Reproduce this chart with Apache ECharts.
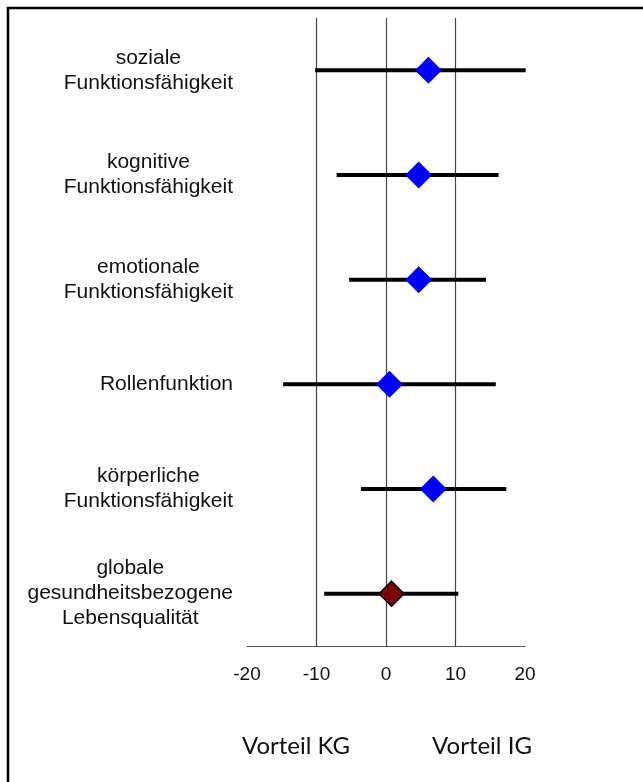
<!DOCTYPE html>
<html>
<head>
<meta charset="utf-8">
<script src="https://cdn.jsdelivr.net/npm/echarts@6/dist/echarts.min.js"></script>
<style>
  html, body { margin: 0; padding: 0; background: #fff; }
  #chart { width: 643px; height: 782px; }
</style>
</head>
<body>
<div id="chart"></div>
<script>
// Outcome domains, listed top to bottom
const categories = [
  'soziale\nFunktionsfähigkeit',
  'kognitive\nFunktionsfähigkeit',
  'emotionale\nFunktionsfähigkeit',
  'Rollenfunktion',
  'körperliche\nFunktionsfähigkeit',
  'globale\ngesundheitsbezogene\nLebensqualität'
];
// Mean difference and confidence interval bounds per domain
const estimates = [6.1, 4.7, 4.7, 0.5, 6.8, 0.8];
const lower     = [-10.2, -7.1, -5.3, -14.8, -3.6, -8.9];
const upper     = [20.1, 16.2, 14.4, 15.8, 17.3, 10.4];
// Index of the summary (global) row, drawn in dark red
const summaryIndex = 5;
// Axis range and ticks
const xMin = -20, xMax = 20, xStep = 10;
// Annotation texts under the axis
const favourLeft = 'Vorteil KG';
const favourRight = 'Vorteil IG';

const chart = echarts.init(document.getElementById('chart'), null, { renderer: 'canvas' });

const ciData = categories.map((c, i) => [lower[i], upper[i], i]);
const pointData = categories.map((c, i) => ({
  value: [estimates[i], i],
  itemStyle: i === summaryIndex
    ? { color: '#7f0000', borderColor: '#000', borderWidth: 1.5, opacity: 1 }
    : { color: '#0000ff', opacity: 1 },
  symbolSize: i === summaryIndex ? 25 : 27
}));

const labelFont = 'Liberation Sans, Arial, sans-serif';

const option = {
  backgroundColor: '#ffffff',
  animation: false,
  grid: { left: 247, right: 118, top: 18, bottom: 136, containLabel: false },
  xAxis: {
    type: 'value',
    min: xMin, max: xMax, interval: xStep,
    axisLine: { show: true, lineStyle: { color: '#555', width: 1.2 } },
    axisTick: { show: false },
    axisLabel: {
      margin: 19,
      color: '#111',
      fontFamily: labelFont,
      fontSize: 19
    },
    splitLine: {
      show: true,
      showMinLine: false,
      showMaxLine: false,
      lineStyle: { color: '#444', width: 1.2 }
    }
  },
  yAxis: {
    type: 'category',
    data: categories,
    inverse: true,
    axisLine: { show: false },
    axisTick: { show: false },
    splitLine: { show: false },
    axisLabel: {
      margin: 14,
      align: 'right',
      color: '#111',
      fontFamily: labelFont,
      fontSize: 21,
      lineHeight: 25,
      formatter: (v) => v.split('\n').map(s => '{c|' + s + '}').join('\n'),
      rich: {
        c: {
          align: 'center',
          fontFamily: labelFont,
          fontSize: 21,
          lineHeight: 25,
          color: '#111'
        }
      }
    }
  },
  series: [
    {
      type: 'custom',
      name: 'KI',
      data: ciData,
      encode: { x: [0, 1], y: 2 },
      renderItem: (params, api) => {
        const a = api.coord([api.value(0), api.value(2)]);
        const b = api.coord([api.value(1), api.value(2)]);
        return {
          type: 'line',
          shape: { x1: a[0], y1: a[1], x2: b[0], y2: b[1] },
          style: { stroke: '#000', lineWidth: 4 }
        };
      },
      z: 2
    },
    {
      type: 'scatter',
      name: 'Schätzer',
      symbol: 'diamond',
      data: pointData,
      z: 3
    }
  ],
  graphic: [
    {
      type: 'polyline',
      shape: { points: [[8, 782], [8, 8], [643, 8]] },
      style: { stroke: '#000', lineWidth: 2.5, fill: null }
    },
    {
      type: 'text',
      x: 296, y: 746,
      style: {
        text: favourLeft, align: 'center', verticalAlign: 'middle',
        fontFamily: 'Lato, Carlito, sans-serif', fontSize: 24, fill: '#111'
      }
    },
    {
      type: 'text',
      x: 482, y: 746,
      style: {
        text: favourRight, align: 'center', verticalAlign: 'middle',
        fontFamily: 'Lato, Carlito, sans-serif', fontSize: 24, fill: '#111'
      }
    }
  ]
};

chart.setOption(option);
</script>
</body>
</html>
